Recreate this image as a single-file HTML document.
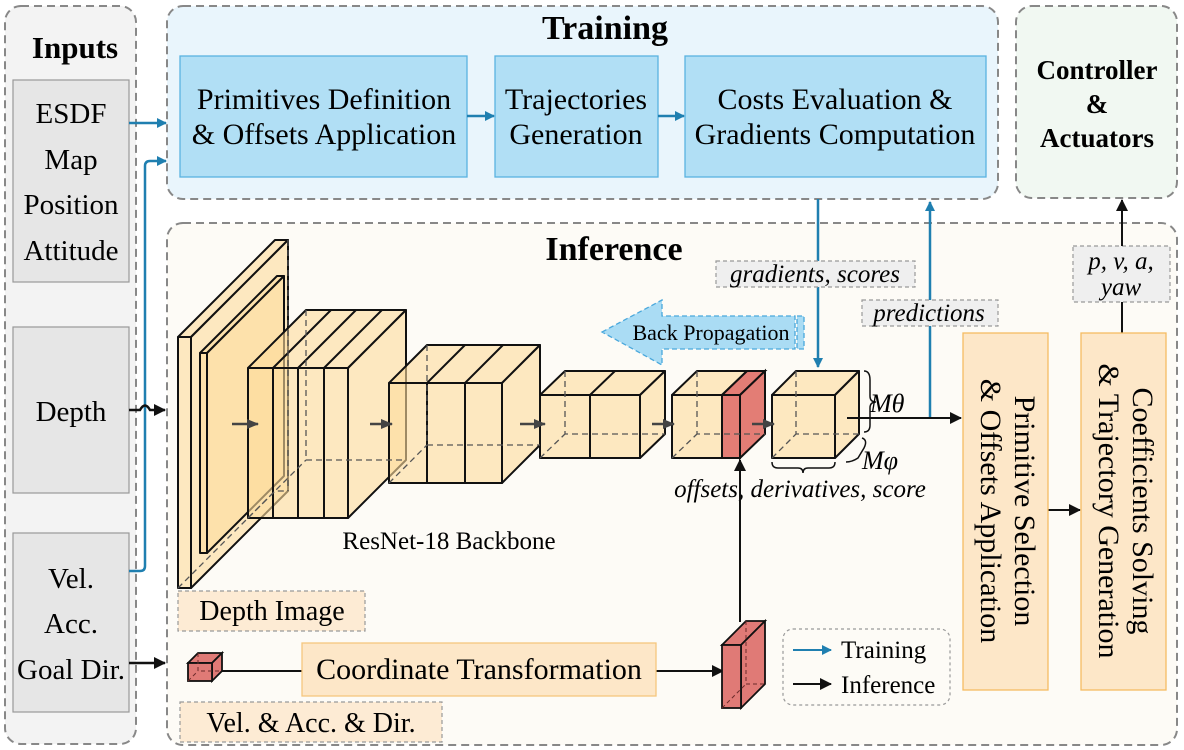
<!DOCTYPE html>
<html><head><meta charset="utf-8"><style>
html,body{margin:0;padding:0;background:#fff;}
svg{display:block;font-family:"Liberation Serif","Times New Roman",serif;}
</style></head><body>
<svg width="1184" height="750" viewBox="0 0 1184 750" xmlns="http://www.w3.org/2000/svg" font-family="'Liberation Serif', 'Times New Roman', serif">
<defs>
<marker id="ab" markerWidth="10" markerHeight="10" refX="9" refY="5" orient="auto" markerUnits="userSpaceOnUse"><path d="M0,0 L10,5 L0,10 Z" fill="#1f7fb0"/></marker>
<marker id="ak" markerWidth="12" markerHeight="12" refX="11" refY="6" orient="auto" markerUnits="userSpaceOnUse"><path d="M0,0 L12,6 L0,12 Z" fill="#111"/></marker>
<marker id="ag" markerWidth="12" markerHeight="12" refX="11" refY="6" orient="auto" markerUnits="userSpaceOnUse"><path d="M0,1 L12,6 L0,11 Z" fill="#444"/></marker>
</defs>

<rect x="5" y="6" width="131" height="738" rx="16" fill="#f3f3f3" stroke="#888" stroke-width="2" stroke-dasharray="8,5"/>
<rect x="167" y="6" width="831" height="193" rx="16" fill="#e9f5fc" stroke="#888" stroke-width="2" stroke-dasharray="8,5"/>
<rect x="1016" y="6" width="161" height="192" rx="16" fill="#f1f8f2" stroke="#888" stroke-width="2" stroke-dasharray="8,5"/>
<rect x="167" y="223" width="1010" height="522" rx="16" fill="#fdfbf6" stroke="#888" stroke-width="2" stroke-dasharray="8,5"/>

<text x="75" y="58" font-size="31" font-weight="bold" text-anchor="middle">Inputs</text>
<text x="605" y="39" font-size="34" font-weight="bold" text-anchor="middle">Training</text>
<text x="614" y="260" font-size="34" font-weight="bold" text-anchor="middle">Inference</text>
<g font-size="27" font-weight="bold" text-anchor="middle">
<text x="1097" y="79">Controller</text><text x="1097" y="113">&amp;</text><text x="1097" y="147">Actuators</text>
</g>

<g fill="#e6e6e6" stroke="#999" stroke-width="1.2">
<rect x="13" y="80" width="116" height="202"/>
<rect x="13" y="327" width="116" height="166"/>
<rect x="13" y="533" width="116" height="179"/>
</g>
<g font-size="29" text-anchor="middle">
<text x="71" y="123">ESDF</text><text x="71" y="169">Map</text><text x="71" y="214">Position</text><text x="71" y="260">Attitude</text>
<text x="71" y="421">Depth</text>
<text x="71" y="588">Vel.</text><text x="71" y="633">Acc.</text><text x="71" y="679">Goal Dir.</text>
</g>

<g fill="#b1dff5" stroke="#5ab3e0" stroke-width="1.3">
<rect x="180" y="56" width="287" height="121"/>
<rect x="495" y="56" width="163" height="121"/>
<rect x="685" y="56" width="301" height="121"/>
</g>
<g font-size="30" text-anchor="middle">
<text x="324" y="109">Primitives Definition</text><text x="324" y="144">&amp; Offsets Application</text>
<text x="576" y="109">Trajectories</text><text x="576" y="144">Generation</text>
<text x="835" y="109">Costs Evaluation &amp;</text><text x="835" y="144">Gradients Computation</text>
</g>
<g stroke="#1f7fb0" stroke-width="2.5" fill="none">
<line x1="467" y1="116" x2="494" y2="116" marker-end="url(#ab)"/>
<line x1="658" y1="116" x2="684" y2="116" marker-end="url(#ab)"/>
<line x1="129" y1="123" x2="166" y2="123" marker-end="url(#ab)"/>
<path d="M129,571 L140,571 Q145,571 145,566 L145,166 Q145,161 150,161 L166,161" marker-end="url(#ab)"/>
<line x1="818" y1="199" x2="818" y2="367" marker-end="url(#ab)"/>
<line x1="930" y1="418" x2="930" y2="202" marker-end="url(#ab)"/>
</g>
<g stroke="#111" stroke-width="2.5" fill="none">
<path d="M129,410 L140,410 Q145,401 150,410 L165,410" marker-end="url(#ak)"/>
<line x1="129" y1="663" x2="165" y2="663" marker-end="url(#ak)"/>
</g>

<g stroke="#111" stroke-width="2" fill="#fddc9c" fill-opacity="0.6" stroke-linejoin="round">
<polygon points="178,337 275,240 288,240 191,337"/>
<polygon points="191,337 288,240 288,491 191,588"/>
<rect x="178" y="337" width="13" height="251"/>
<polygon points="200,353 277,276 284,276 207,353"/>
<polygon points="207,353 284,276 284,476 207,553"/>
<rect x="200" y="353" width="7" height="200"/>
<polygon points="248,368 306,310 406,310 348,368"/>
<polygon points="348,368 406,310 406,460 348,518"/>
<rect x="248" y="368" width="100" height="150"/>
<polygon points="389,383 427,345 540,345 502,383"/>
<polygon points="502,383 540,345 540,445 502,483"/>
<rect x="389" y="383" width="113" height="100"/>
<polygon points="540,395 565,371 665,371 640,395"/>
<polygon points="640,395 665,371 665,434 640,458"/>
<rect x="540" y="395" width="100" height="63"/>
<polygon points="672,395 697,371 747,371 722,395"/>
<rect x="672" y="395" width="50" height="63"/>
<polygon points="772,395 796,371 859,371 835,395"/>
<polygon points="835,395 859,371 859,434 835,458"/>
<rect x="772" y="395" width="63" height="63"/>
</g>
<g stroke="#111" stroke-width="2" fill="#d9534a" fill-opacity="0.75">
<polygon points="722,395 747,371 765,371 740,395"/>
<polygon points="740,395 765,371 765,434 740,458"/>
<rect x="722" y="395" width="18" height="63"/>
</g>
<g stroke="#111" stroke-width="2" fill="none">
<path d="M273,368 V518 M298,368 V518 M324,368 V518 M273,368 L331,310 M298,368 L356,310 M324,368 L382,310"/>
<path d="M427,383 V483 M465,383 V483 M427,383 L465,345 M465,383 L503,345"/>
<path d="M590,395 V458 M590,395 L615,371"/>
</g>
<g stroke="#555" stroke-width="1.3" stroke-dasharray="6,4" fill="none">
<path d="M288,240 V491 M178,588 L275,491 L288,491"/>
<path d="M306,310 V460 H406 M248,518 L306,460"/>
<path d="M427,345 V445 H540 M389,483 L427,445"/>
<path d="M565,371 V434 H665 M540,458 L565,434"/>
<path d="M697,371 V434 H765 M672,458 L697,434"/>
<path d="M796,371 V434 H859 M772,458 L796,434"/>
</g>
<g stroke="#444" stroke-width="2.5">
<line x1="232" y1="424" x2="258" y2="424" marker-end="url(#ag)"/>
<line x1="370" y1="424" x2="392" y2="424" marker-end="url(#ag)"/>
<line x1="520" y1="424" x2="545" y2="424" marker-end="url(#ag)"/>
<line x1="652" y1="424" x2="674" y2="424" marker-end="url(#ag)"/>
<line x1="752" y1="424" x2="774" y2="424" marker-end="url(#ag)"/>
</g>
<text x="449" y="549" font-size="25" text-anchor="middle">ResNet-18 Backbone</text>

<polygon points="602,332 662,300 662,316 795,316 795,349 662,349 662,365" fill="#aadcf4" stroke="#4aa8dc" stroke-width="1.3" stroke-dasharray="5,3"/>
<rect x="797" y="316" width="7" height="33" fill="#aadcf4" stroke="#4aa8dc" stroke-width="1.3" stroke-dasharray="5,3"/>
<text x="711" y="340" font-size="22" text-anchor="middle">Back Propagation</text>

<path d="M864,371 Q870,371 870,380 L870,396 Q870,402 876,402 Q870,402 870,408 L870,425 Q870,432 864,432" fill="none" stroke="#111" stroke-width="1.5"/>
<path d="M862,438 Q868,440 864,448 L858,458 Q852,462 846,462" fill="none" stroke="#111" stroke-width="1.5"/>
<path d="M772,462 Q772,468 778,468 L798,468 Q803,468 803,473 Q803,468 808,468 L829,468 Q835,468 835,462" fill="none" stroke="#111" stroke-width="1.5"/>
<text x="870" y="412" font-size="26" font-style="italic">Mθ</text>
<text x="862" y="469" font-size="26" font-style="italic">Mφ</text>
<text x="800" y="497" font-size="25" font-style="italic" text-anchor="middle">offsets, derivatives, score</text>

<g fill="#efefef" stroke="#999" stroke-width="1.2" stroke-dasharray="4,3">
<rect x="716" y="261" width="199" height="26"/>
<rect x="862" y="300" width="136" height="26"/>
<rect x="1073" y="246" width="97" height="56"/>
</g>
<g font-size="25" font-style="italic" text-anchor="middle">
<text x="815" y="282">gradients, scores</text>
<text x="929" y="321">predictions</text>
<text x="1121" y="269">p, v, a,</text>
<text x="1121" y="295">yaw</text>
</g>

<g stroke="#111" stroke-width="2" fill="none">
<line x1="847" y1="418" x2="961" y2="418" marker-end="url(#ak)"/>
<line x1="1048" y1="510" x2="1080" y2="510" marker-end="url(#ak)"/>
<line x1="1122" y1="333" x2="1122" y2="302"/>
<line x1="1122" y1="246" x2="1122" y2="200" marker-end="url(#ak)"/>
<line x1="656" y1="671" x2="723" y2="671" marker-end="url(#ak)"/>
<line x1="740" y1="622" x2="740" y2="460" marker-end="url(#ak)"/>
<line x1="212" y1="671" x2="302" y2="671"/>
</g>

<g fill="#fde7c8" stroke="#f5bc62" stroke-width="1.3">
<rect x="963" y="333" width="85" height="357"/>
<rect x="1081" y="333" width="85" height="357"/>
</g>
<g font-size="30" text-anchor="middle">
<text transform="translate(1015,511) rotate(90)">Primitive Selection</text>
<text transform="translate(981,511) rotate(90)">&amp; Offsets Application</text>
<text transform="translate(1133,511) rotate(90)">Coefficients Solving</text>
<text transform="translate(1099,511) rotate(90)">&amp; Trajectory Generation</text>
</g>

<g fill="#fdebd4" stroke="#999" stroke-width="1.2" stroke-dasharray="4,3">
<rect x="178" y="591" width="187" height="40"/>
<rect x="180" y="702" width="262" height="40"/>
</g>
<text x="272" y="620" font-size="28" text-anchor="middle">Depth Image</text>
<text x="311" y="732" font-size="28" text-anchor="middle">Vel. &amp; Acc. &amp; Dir.</text>
<rect x="302" y="643" width="354" height="53" fill="#fde7c8" stroke="#f5c77e" stroke-width="1.3"/>
<text x="479" y="679" font-size="30" text-anchor="middle">Coordinate Transformation</text>

<g stroke="#111" stroke-width="1.8" fill="#e07a76">
<polygon points="188,663 198,653 222,653 212,663"/>
<polygon points="212,663 222,653 222,671 212,681"/>
<rect x="188" y="663" width="24" height="18"/>
</g>
<path d="M198,653 V671 H222 M188,681 L198,671" stroke="#6a2a2a" stroke-width="1" stroke-dasharray="4,3" fill="none"/>
<g stroke="#111" stroke-width="1.8" fill="#e07a76">
<polygon points="722,645 746,621 765,621 741,645"/>
<polygon points="741,645 765,621 765,684 741,708"/>
<rect x="722" y="645" width="19" height="63"/>
</g>
<path d="M746,621 V684 H765 M722,708 L746,684" stroke="#6a2a2a" stroke-width="1" stroke-dasharray="4,3" fill="none"/>

<rect x="783" y="629" width="167" height="76" rx="10" fill="none" stroke="#999" stroke-width="1.2" stroke-dasharray="3,3"/>
<line x1="793" y1="650" x2="831" y2="650" stroke="#1f7fb0" stroke-width="2" marker-end="url(#ab)"/>
<line x1="793" y1="684" x2="831" y2="684" stroke="#111" stroke-width="2" marker-end="url(#ak)"/>
<text x="841" y="658" font-size="25">Training</text>
<text x="841" y="693" font-size="25">Inference</text>
</svg>
</body></html>
